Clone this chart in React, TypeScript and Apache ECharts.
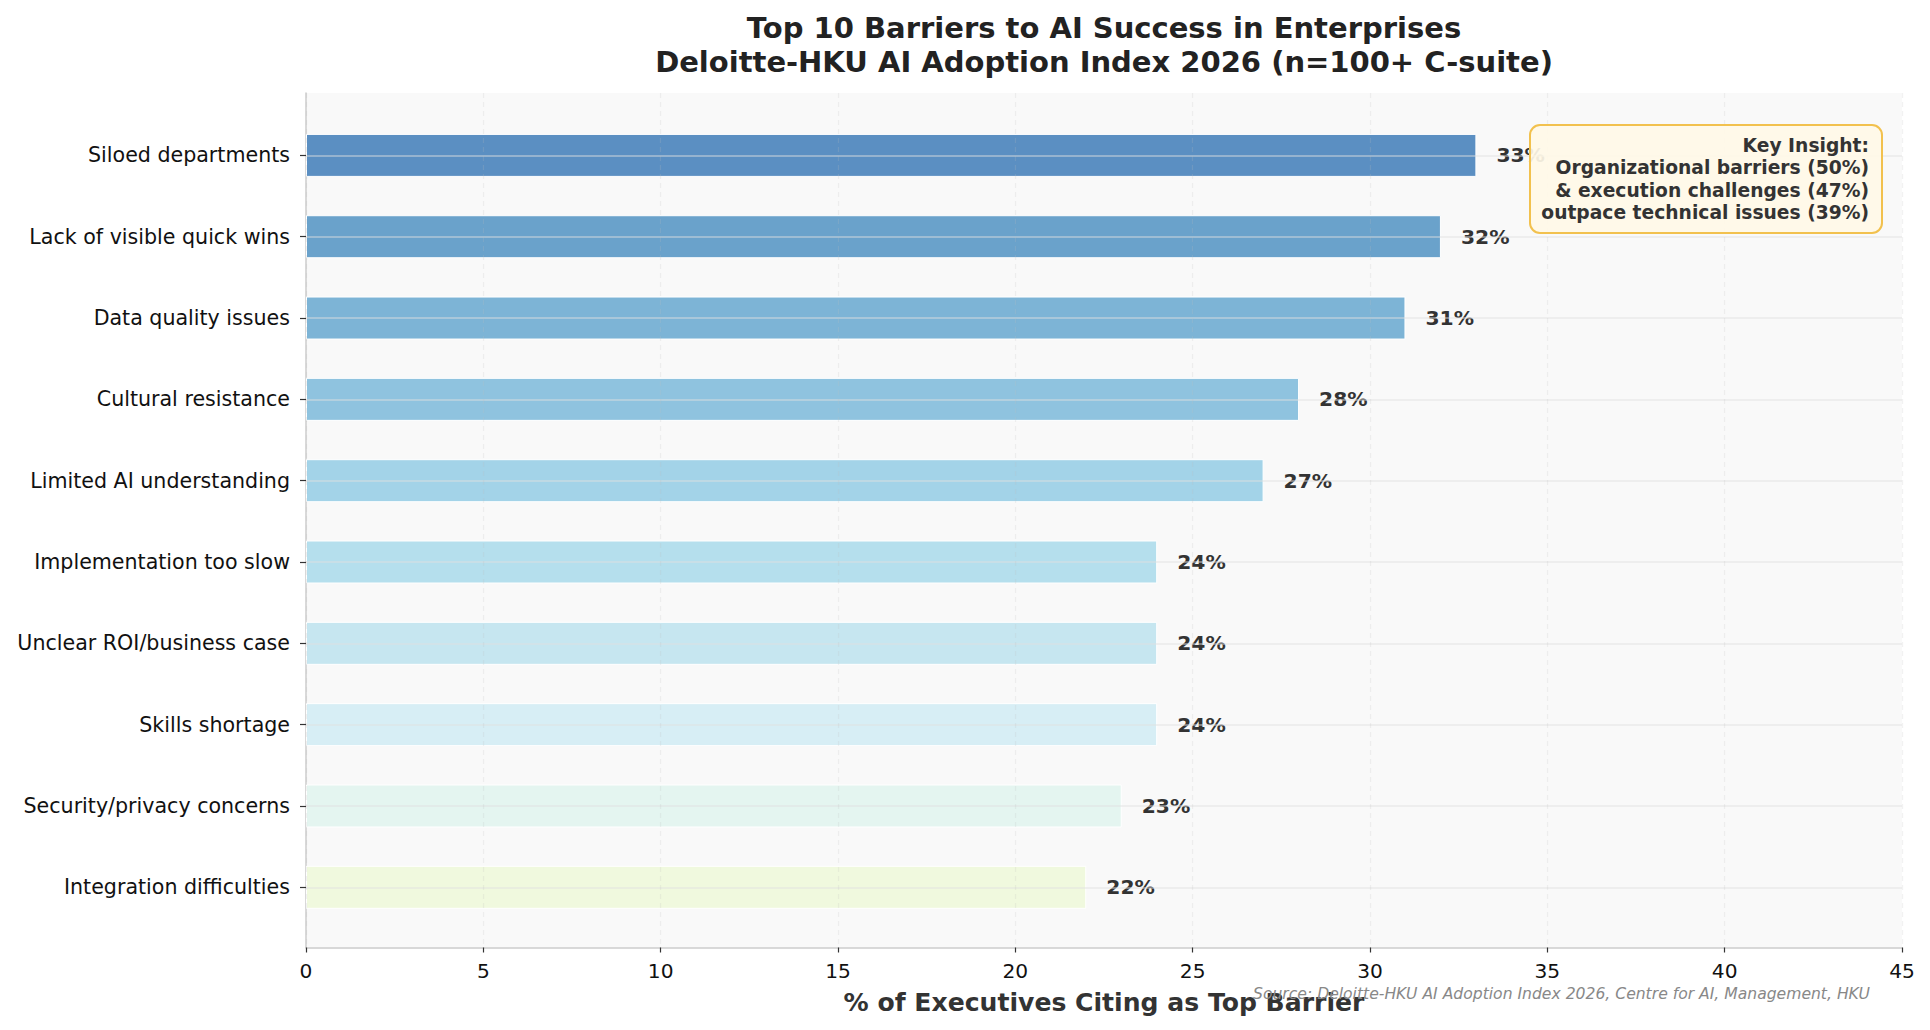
import React, { useEffect, useRef } from "react";
import * as echarts from "echarts";

const categories = [
  "Siloed departments",
  "Lack of visible quick wins",
  "Data quality issues",
  "Cultural resistance",
  "Limited AI understanding",
  "Implementation too slow",
  "Unclear ROI/business case",
  "Skills shortage",
  "Security/privacy concerns",
  "Integration difficulties",
];
const values = [33, 32, 31, 28, 27, 24, 24, 24, 23, 22];
const barColors = [
  "#5B8FC2",
  "#6AA2CB",
  "#7DB4D6",
  "#8FC3DF",
  "#A3D3E8",
  "#B5DFED",
  "#C6E6F0",
  "#D7EEF5",
  "#E4F5F0",
  "#F0F9DE",
];
const xTicks = { min: 0, max: 45, interval: 5 };
const titleLines = [
  "Top 10 Barriers to AI Success in Enterprises",
  "Deloitte-HKU AI Adoption Index 2026 (n=100+ C-suite)",
];
const insightLines = [
  "Key Insight:",
  "Organizational barriers (50%)",
  "& execution challenges (47%)",
  "outpace technical issues (39%)",
];
const xAxisTitle = "% of Executives Citing as Top Barrier";
const sourceText =
  "Source: Deloitte-HKU AI Adoption Index 2026, Centre for AI, Management, HKU";

const FONT = "DejaVu Sans";

export default function App() {
  const ref = useRef<HTMLDivElement>(null);
  useEffect(() => {
    if (!ref.current) return;
    const chart = echarts.init(ref.current, undefined, { renderer: "svg" });
    const option = {
      animation: false,
      backgroundColor: "#ffffff",
      textStyle: { fontFamily: FONT },
      grid: [
        { left: 306, right: 28, top: 155.4, bottom: 142.7 },
        {
          left: 306,
          right: 28,
          top: 93,
          bottom: 82.5,
          show: true,
          backgroundColor: "#f9f9f9",
          borderWidth: 0,
        },
      ],
      xAxis: [
        {
          gridIndex: 0,
          type: "value",
          min: xTicks.min,
          max: xTicks.max,
          show: false,
        },
        {
          gridIndex: 1,
          type: "value",
          min: xTicks.min,
          max: xTicks.max,
          interval: xTicks.interval,
          z: 10,
          axisLine: { show: true, lineStyle: { color: "#cccccc", width: 1.5 } },
          axisTick: { show: true, length: 5, lineStyle: { color: "#333333", width: 1.2 } },
          axisLabel: { fontSize: 20.2, color: "#111111", margin: 13, fontFamily: FONT },
          splitLine: {
            show: true,
            lineStyle: { color: "rgba(190,190,190,0.2)", width: 1.2, type: [5, 4] },
          },
          name: xAxisTitle,
          nameLocation: "middle",
          nameGap: 42,
          nameTextStyle: { fontSize: 25.1, fontWeight: "bold", color: "#333333", fontFamily: FONT },
        },
      ],
      yAxis: [
        {
          gridIndex: 0,
          type: "category",
          data: categories,
          inverse: true,
          boundaryGap: false,
          z: 10,
          axisLine: { show: false },
          axisTick: { show: true, length: 6, lineStyle: { color: "#333333", width: 1.2 } },
          axisLabel: { fontSize: 20.6, color: "#111111", margin: 16, fontFamily: FONT },
          splitLine: {
            show: true,
            lineStyle: { color: "rgba(224,224,224,0.6)", width: 1.5 },
          },
        },
        {
          gridIndex: 1,
          type: "value",
          min: 0,
          max: 1,
          axisLine: { show: true, lineStyle: { color: "#cccccc", width: 1.5 } },
          axisTick: { show: false },
          axisLabel: { show: false },
          splitLine: { show: false },
        },
      ],
      series: [
        {
          type: "bar",
          xAxisIndex: 0,
          yAxisIndex: 0,
          barWidth: 43,
          clip: false,
          z: 2,
          data: values.map((v, i) => ({
            value: v,
            itemStyle: { color: barColors[i], borderColor: "#ffffff", borderWidth: 1 },
          })),
          label: {
            show: true,
            position: "right",
            distance: 20,
            formatter: "{c}%",
            fontSize: 20.3,
            fontWeight: "bold",
            color: "#333333",
            fontFamily: FONT,
          },
        },
      ],
      graphic: [
        {
          type: "text",
          x: 1104,
          y: 28,
          z: 50,
          style: {
            text: titleLines[0],
            textAlign: "center",
            textVerticalAlign: "middle",
            fontSize: 29,
            fontWeight: "bold",
            fill: "#222222",
            fontFamily: FONT,
          },
        },
        {
          type: "text",
          x: 1104,
          y: 62,
          z: 50,
          style: {
            text: titleLines[1],
            textAlign: "center",
            textVerticalAlign: "middle",
            fontSize: 29,
            fontWeight: "bold",
            fill: "#222222",
            fontFamily: FONT,
          },
        },
        {
          type: "rect",
          z: 100,
          shape: { x: 1530, y: 125, width: 352, height: 108, r: 10 },
          style: {
            fill: "rgba(255,248,231,0.92)",
            stroke: "#f2c14e",
            lineWidth: 2,
          },
        },
        {
          type: "text",
          z: 101,
          x: 1869,
          y: 134,
          style: {
            text: insightLines.join("\n"),
            textAlign: "right",
            textVerticalAlign: "top",
            fontSize: 18.7,
            lineHeight: 22.4,
            fontWeight: "bold",
            fill: "#333333",
            fontFamily: FONT,
          },
        },
        {
          type: "text",
          z: 101,
          x: 1870,
          y: 994,
          style: {
            text: sourceText,
            textAlign: "right",
            textVerticalAlign: "middle",
            fontSize: 15.6,
            fontStyle: "italic",
            fill: "#888888",
            fontFamily: FONT,
          },
        },
      ],
    };
    chart.setOption(option as any);
    return () => chart.dispose();
  }, []);
  return (
    <div
      ref={ref}
      style={{ position: "fixed", left: 0, top: 0, width: 1930, height: 1030 }}
    />
  );
}
